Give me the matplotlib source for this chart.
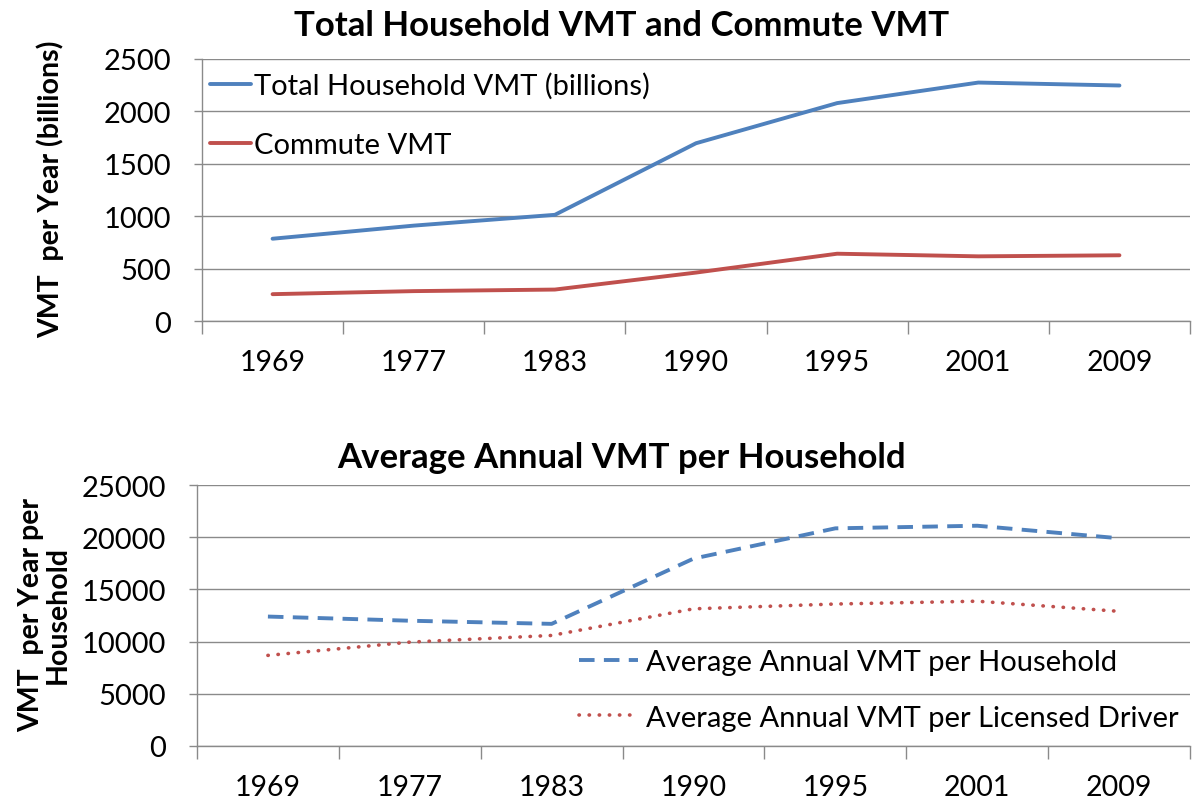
import matplotlib.pyplot as plt
from matplotlib.ticker import FixedLocator, NullFormatter

plt.rcParams['font.family'] = ['Lato', 'DejaVu Sans']

years = ['1969', '1977', '1983', '1990', '1995', '2001', '2009']
total_vmt = [785, 910, 1013, 1696, 2079, 2275, 2247]
commute_vmt = [256, 285, 300, 462, 642, 617, 627]
vmt_household = [12400, 12000, 11700, 17950, 20850, 21100, 19900]
vmt_driver = [8680, 9950, 10590, 13140, 13600, 13870, 12900]

blue = '#4F81BD'
red = '#C0504D'
grid_c = '#8a8a8a'

fig = plt.figure(figsize=(11.96, 8.04), dpi=100)
ax1 = fig.add_axes([0.1689, 0.5995, 0.8261, 0.3259])
ax2 = fig.add_axes([0.1647, 0.0709, 0.8303, 0.3246])


def style_axes(ax, ymax, step):
    x = range(len(years))
    ax.set_xlim(-0.5, len(years) - 0.5)
    ax.set_ylim(0, ymax)
    ax.set_yticks(range(0, ymax + 1, step))
    ax.set_xticks(list(x))
    ax.set_xticklabels(years)
    ax.xaxis.set_minor_locator(FixedLocator([i - 0.5 for i in range(len(years) + 1)]))
    ax.xaxis.set_minor_formatter(NullFormatter())
    ax.tick_params(axis='x', which='major', length=0, pad=20, labelsize=20.5)
    ax.tick_params(axis='x', which='minor', length=9, width=1, color=grid_c)
    ax.tick_params(axis='y', length=6, width=1, color=grid_c, pad=16, labelsize=21)
    ax.grid(axis='y', color=grid_c, lw=1)
    ax.set_axisbelow(True)
    for s in ['top', 'right']:
        ax.spines[s].set_visible(False)
    for s in ['left', 'bottom']:
        ax.spines[s].set_color(grid_c)
        ax.spines[s].set_linewidth(1)


# top chart
style_axes(ax1, 2500, 500)
ax1.plot(years, total_vmt, color=blue, lw=2.8, solid_capstyle='round',
         label='Total Household VMT (billions)')
ax1.plot(years, commute_vmt, color=red, lw=2.8, solid_capstyle='round',
         label='Commute VMT')
ax1.legend(loc='upper left', bbox_to_anchor=(0.008, 0.95), frameon=False,
           fontsize=21, handlelength=1.4, handletextpad=0.12, labelspacing=1.15,
           borderpad=0, borderaxespad=0)
fig.text(0.042, 0.765, 'VMT  per Year (billions)', rotation=90, ha='center',
         va='center', fontsize=20.5, fontweight='bold')
fig.text(0.52, 0.968, 'Total Household VMT and Commute VMT', ha='center',
         va='center', fontsize=25, fontweight='bold')

# bottom chart
style_axes(ax2, 25000, 5000)
ax2.plot(years, vmt_household, color=blue, lw=2.8, linestyle=(0, (4.0, 2.4)),
         label='Average Annual VMT per Household')
ax2.plot(years, vmt_driver, color=red, lw=2.6, linestyle=(0, (0.1, 2.7)),
         dash_capstyle='round', label='Average Annual VMT per Licensed Driver')
ax2.legend(loc='upper left', bbox_to_anchor=(0.385, 0.37), frameon=False,
           fontsize=21, handlelength=2.0, handletextpad=0.3, labelspacing=1.0,
           borderpad=0, borderaxespad=0)
fig.text(0.037, 0.235, 'VMT  per Year per\nHousehold', rotation=90, ha='center',
         va='center', fontsize=20.5, fontweight='bold', linespacing=1.05)
fig.text(0.52, 0.430, 'Average Annual VMT per Household', ha='center',
         va='center', fontsize=25, fontweight='bold')

fig.savefig('out.png', dpi=100)
